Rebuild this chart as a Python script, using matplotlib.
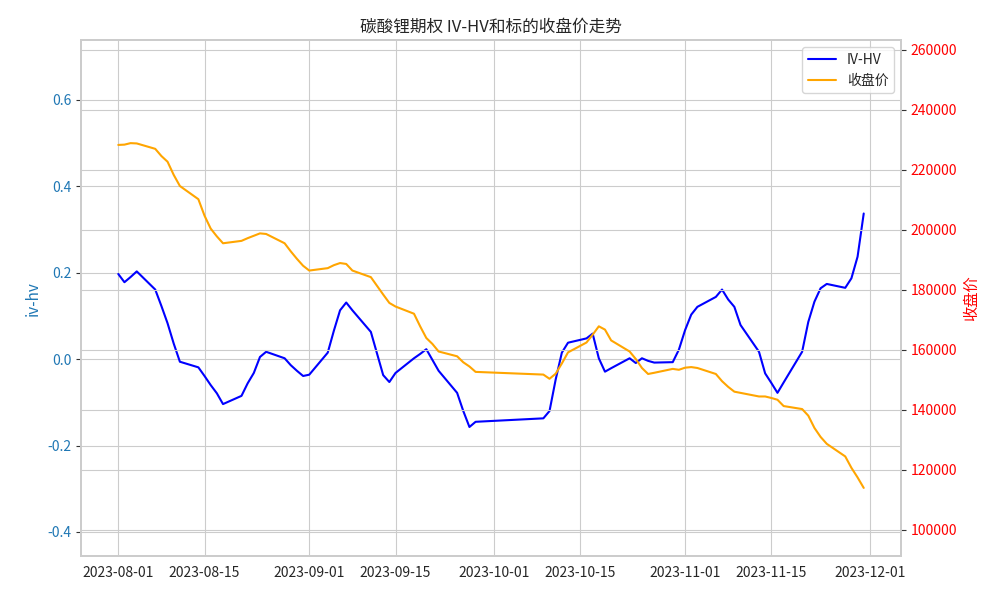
import pandas as pd
import matplotlib
matplotlib.use("Agg")
import matplotlib.pyplot as plt
import matplotlib.dates as mdates
import seaborn as sns

sns.set_style("whitegrid")
plt.rcParams['font.family'] = ['Noto Sans CJK SC', 'DejaVu Sans']
plt.rcParams['axes.unicode_minus'] = False

# trading days (day of month)
aug_days = [1, 2, 3, 4, 7, 8, 9, 10, 11, 14, 15, 16, 17, 18, 21, 22, 23, 24, 25, 28, 29, 30, 31]
sep_days = [1, 4, 5, 6, 7, 8, 11, 12, 13, 14, 15, 18, 19, 20, 21, 22, 25, 26, 27, 28]
oct_days = [9, 10, 11, 12, 13, 16, 17, 18, 19, 20, 23, 24, 25, 26, 27, 30, 31]
nov_days = [1, 2, 3, 6, 7, 8, 9, 10, 13, 14, 15, 16, 17, 20, 21, 22, 23, 24, 27, 28, 29, 30]

iv_hv = [
    # Aug
    0.197, 0.178, 0.190, 0.203, 0.161, 0.123, 0.083, 0.036, -0.006, -0.019, -0.039, -0.060,
    -0.079, -0.104, -0.085, -0.056, -0.032, 0.005, 0.017, 0.002, -0.014, -0.027, -0.039,
    # Sep
    -0.036, 0.015, 0.066, 0.113, 0.131, 0.113, 0.063, 0.013, -0.037, -0.053, -0.032, 0.002,
    0.012, 0.023, -0.002, -0.027, -0.078, -0.120, -0.157, -0.145,
    # Oct
    -0.137, -0.120, -0.047, 0.015, 0.038, 0.048, 0.059, 0.002, -0.029, -0.021, 0.002, -0.009,
    0.002, -0.004, -0.008, -0.007, 0.022,
    # Nov
    0.067, 0.103, 0.121, 0.144, 0.161, 0.138, 0.121, 0.079, 0.017, -0.033, -0.055, -0.078,
    -0.054, 0.017, 0.086, 0.133, 0.164, 0.174, 0.165, 0.187, 0.237, 0.337,
]

close = [
    # Aug
    228300, 228400, 228900, 228800, 227000, 224600, 222700, 218300, 214600, 210200, 204700,
    200400, 197800, 195500, 196300, 197200, 198000, 198800, 198600, 195500, 192800, 190300,
    188000,
    # Sep
    186400, 187200, 188200, 188900, 188600, 186400, 184200, 181300, 178400, 175600, 174400,
    172000, 167800, 163900, 161900, 159400, 157800, 155800, 154400, 152600,
    # Oct
    151700, 150300, 152000, 155400, 159100, 162400, 165000, 167800, 166700, 163100, 159400,
    156900, 153900, 151900, 152300, 153600, 153300,
    # Nov
    154000, 154200, 153900, 151900, 149500, 147600, 146000, 145600, 144400, 144400, 143900,
    143300, 141200, 140200, 138000, 133900, 130900, 128600, 124400, 120600, 117400, 113900,
]

dates = ([pd.Timestamp(2023, 8, d) for d in aug_days]
         + [pd.Timestamp(2023, 9, d) for d in sep_days]
         + [pd.Timestamp(2023, 10, d) for d in oct_days]
         + [pd.Timestamp(2023, 11, d) for d in nov_days])

fig, ax1 = plt.subplots(figsize=(10, 6), dpi=100)
fig.subplots_adjust(left=0.081, right=0.901, top=0.933, bottom=0.073)

l1, = ax1.plot(dates, iv_hv, color='blue', linewidth=1.5, label='IV-HV')
ax1.set_ylabel('iv-hv', color='tab:blue', fontsize=11)
ax1.tick_params(axis='y', labelcolor='tab:blue', left=True, length=3.5, color='#333333', labelsize=10)
ax1.tick_params(axis='x', labelsize=10, bottom=False)
ax1.set_ylim(-0.456, 0.738)
ax1.set_yticks([-0.4, -0.2, 0.0, 0.2, 0.4, 0.6])

ax2 = ax1.twinx()
l2, = ax2.plot(dates, close, color='orange', linewidth=1.5, label='收盘价')
ax2.set_ylabel('收盘价', color='red', fontsize=11)
ax2.tick_params(axis='y', labelcolor='red', right=True, length=3.5, color='#333333', labelsize=10)
ax2.set_ylim(min(close) * 0.8, max(close) * 1.15)
ax2.set_yticks(range(100000, 260001, 20000))

for ax in (ax1, ax2):
    for sp in ax.spines.values():
        sp.set_color('#cccccc')
        sp.set_linewidth(1.25)

ax1.xaxis.set_major_locator(mdates.DayLocator(bymonthday=[1, 15]))
ax1.xaxis.set_major_formatter(mdates.DateFormatter('%Y-%m-%d'))

ax2.legend(handles=[l1, l2], loc='upper right', fontsize=10)
ax1.set_title('碳酸锂期权 IV-HV和标的收盘价走势', fontsize=12)

fig.savefig('out.png')
